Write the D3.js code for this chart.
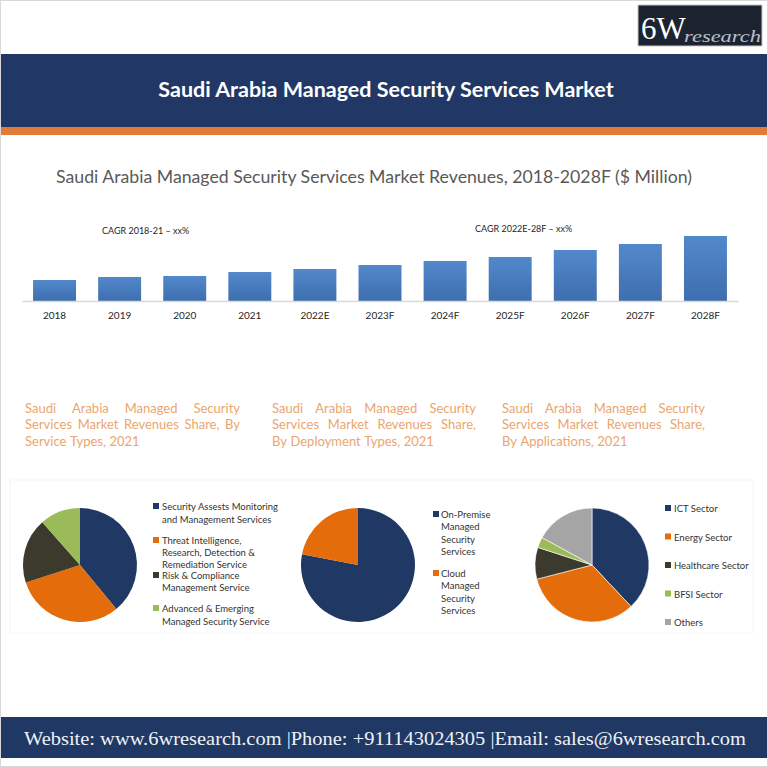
<!DOCTYPE html>
<html><head><meta charset="utf-8">
<script src="https://cdn.jsdelivr.net/npm/d3@7"></script>
<style>html,body{margin:0;padding:0;background:#fff;}svg{display:block;}</style>
</head><body>
<script>
// ---- data ----
const years = ["2018","2019","2020","2021","2022E","2023F","2024F","2025F","2026F","2027F","2028F"];
const revenues = [21, 24, 25, 29, 32, 36, 40, 44, 51, 57, 65];
const cagrLabels = ["CAGR 2018-21 \u2013 xx%", "CAGR 2022E-28F \u2013 xx%"];

const serviceTypes = ["Security Assests Monitoring and Management Services","Threat Intelligence, Research, Detection & Remediation Service","Risk & Compliance Management Service","Advanced & Emerging Managed Security Service"];
const serviceShares = [39, 31, 18.5, 11.5];
const deploymentTypes = ["On-Premise Managed Security Services","Cloud Managed Security Services"];
const deploymentShares = [78, 22];
const applications = ["ICT Sector","Energy Sector","Healthcare Sector","BFSI Sector","Others"];
const applicationShares = [38, 33, 9, 3, 17];

const pieColors = ["#1f3864","#e46c0a","#3b3a2c","#9bbb59","#a5a5a5"];

const W = 768, H = 767;
const svg = d3.select("body").append("svg").attr("width", W).attr("height", H);
const defs = svg.append("defs");
const grad = defs.append("linearGradient").attr("id","barGrad").attr("x1",0).attr("y1",0).attr("x2",0).attr("y2",1);
grad.append("stop").attr("offset","0%").attr("stop-color","#5289cc");
grad.append("stop").attr("offset","100%").attr("stop-color","#3e6eae");

// outer border
svg.append("rect").attr("x",0.5).attr("y",0.5).attr("width",W-1).attr("height",H-1).attr("fill","#fff").attr("stroke","#d8d8d8");

// logo
svg.append("rect").attr("x",638).attr("y",5).attr("width",124).attr("height",41).attr("fill","#1c2431").attr("stroke","#c8c8c8");
svg.append("text").attr("x",641).attr("y",39).attr("font-family","Liberation Serif, serif").attr("font-size",31).attr("fill","#fff").text("6W");
svg.append("text").attr("x",684).attr("y",42).attr("font-family","Liberation Serif, serif").attr("font-style","italic").attr("font-size",17)
  .attr("textLength",77).attr("lengthAdjust","spacingAndGlyphs").attr("fill","#b9bec8").text("research");

// banner
svg.append("rect").attr("x",1).attr("y",54).attr("width",W-2).attr("height",74).attr("fill","#213867");
svg.append("rect").attr("x",1).attr("y",127).attr("width",W-2).attr("height",8).attr("fill","#e07b39");
svg.append("text").attr("x",386).attr("y",97).attr("text-anchor","middle").attr("font-family","Lato, sans-serif").attr("font-weight","bold").attr("font-size",21.5).attr("fill","#fff").text("Saudi Arabia Managed Security Services Market");

// chart title
svg.append("text").attr("x",374).attr("y",183).attr("text-anchor","middle").attr("font-family","Lato, sans-serif").attr("font-size",17.7).attr("fill","#595959").text("Saudi Arabia Managed Security Services Market Revenues, 2018-2028F ($ Million)");

// bar chart
const x = d3.scaleBand().domain(years).range([22, 738]).paddingInner(0.34).paddingOuter(0.17);
const y = d3.scaleLinear().domain([0, 65]).range([301, 236]);
const barG = svg.append("g");
barG.selectAll("rect").data(years).join("rect")
  .attr("x", d => x(d)).attr("width", x.bandwidth())
  .attr("y", (d,i) => y(revenues[i])).attr("height", (d,i) => y(0) - y(revenues[i]))
  .attr("fill","url(#barGrad)");
const xAxis = svg.append("g").attr("transform","translate(0,301)").call(d3.axisBottom(x).tickSize(0).tickPadding(11));
xAxis.select(".domain").attr("stroke","#d9d9d9").attr("stroke-width",1.5);
xAxis.selectAll("text").attr("font-family","Lato, sans-serif").attr("font-size",10).attr("fill","#262626");

svg.append("text").attr("x",102).attr("y",234).attr("font-family","Lato, sans-serif").attr("font-size",9).attr("fill","#262626").text(cagrLabels[0]);
svg.append("text").attr("x",475).attr("y",232).attr("font-family","Lato, sans-serif").attr("font-size",9).attr("fill","#262626").text(cagrLabels[1]);

// subtitles (justified)
const subs = [
  {x:25, w:215, lines:["Saudi Arabia Managed Security","Services Market Revenues Share, By","Service Types, 2021"]},
  {x:272, w:204, lines:["Saudi Arabia Managed Security","Services Market Revenues Share,","By Deployment Types, 2021"]},
  {x:502, w:203, lines:["Saudi Arabia Managed Security","Services Market Revenues Share,","By Applications, 2021"]}
];
subs.forEach(s => {
  s.lines.forEach((line, li) => {
    const yy = 413 + li*16.3;
    const words = line.split(" ");
    const last = li === s.lines.length-1;
    const g = svg.append("g");
    const texts = words.map(wd => g.append("text").attr("y",yy).attr("font-family","Lato, sans-serif").attr("font-size",13).attr("fill","#eba56e").text(wd));
    const widths = texts.map(t => t.node().getComputedTextLength());
    const total = d3.sum(widths);
    const gap = last ? 3.5 : (s.w - total) / (words.length - 1);
    let cx = s.x;
    texts.forEach((t,i) => { t.attr("x", cx); cx += widths[i] + gap; });
  });
});

// pies
const pie = d3.pie().sort(null).value(d => d);
const arc = d3.arc().innerRadius(0).outerRadius(57);
function drawPie(cx, cy, values, stroke) {
  const g = svg.append("g").attr("transform",`translate(${cx},${cy})`);
  g.selectAll("path").data(pie(values)).join("path").attr("d", arc)
    .attr("fill",(d,i)=>pieColors[i]).attr("stroke", stroke).attr("stroke-width",0.6);
}
drawPie(80, 565, serviceShares, "none");
drawPie(358, 565, deploymentShares, "none");
drawPie(592, 565, applicationShares, "#fff");

function legend(items, sqX, txtX, blocks) {
  items.forEach((name, i) => {
    const b = blocks[i];
    svg.append("rect").attr("x",sqX).attr("y",b.y - 7).attr("width",6).attr("height",6).attr("fill",pieColors[i]);
    b.lines.forEach((ln, j) => {
      svg.append("text").attr("x",txtX).attr("y",b.y + j*b.lh).attr("font-family","Lato, sans-serif").attr("font-size",9.5).attr("fill","#333").text(ln);
    });
  });
}
legend(serviceTypes, 153, 162, [
  {y:510, lh:13, lines:["Security Assests Monitoring","and Management Services"]},
  {y:544, lh:12, lines:["Threat Intelligence,","Research, Detection &","Remediation Service"]},
  {y:579, lh:12, lines:["Risk & Compliance","Management Service"]},
  {y:612, lh:12.5, lines:["Advanced & Emerging","Managed Security Service"]}
]);
legend(deploymentTypes, 433, 441, [
  {y:518, lh:12.3, lines:["On-Premise","Managed","Security","Services"]},
  {y:577, lh:12.3, lines:["Cloud","Managed","Security","Services"]}
]);
legend(applications, 665, 674, applications.map((a,i)=>({y:512 + i*28.5, lh:12, lines:[a]})));

// faint panel line
svg.append("rect").attr("x",10).attr("y",480).attr("width",743).attr("height",153).attr("fill","none").attr("stroke","#f5f5f5");

// footer
svg.append("rect").attr("x",1).attr("y",717).attr("width",W-2).attr("height",41).attr("fill","#203864");
svg.append("text").attr("x",385).attr("y",745).attr("text-anchor","middle").attr("font-family","Liberation Serif, serif").attr("font-size",18).attr("fill","#eef2f8")
  .attr("textLength",722).attr("lengthAdjust","spacingAndGlyphs")
  .text("Website: www.6wresearch.com |Phone: +911143024305 |Email: sales@6wresearch.com");
</script>
</body></html>
